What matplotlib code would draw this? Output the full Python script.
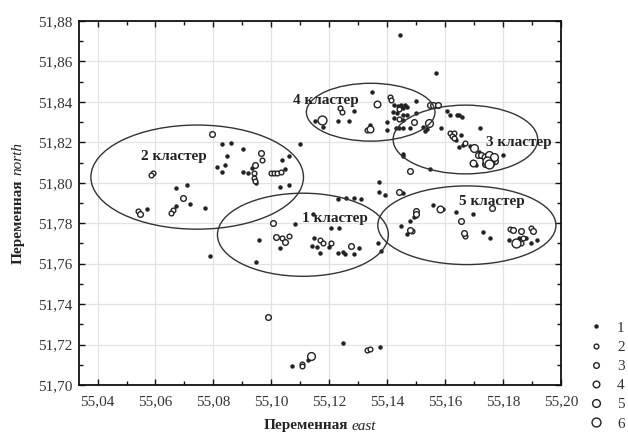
import numpy as np
import matplotlib.pyplot as plt
from matplotlib.patches import Ellipse
from matplotlib.ticker import MultipleLocator, FuncFormatter

plt.rcParams['font.family'] = ['Liberation Serif', 'DejaVu Serif']

# --- points: (east, north, size class 1..6) ---
cluster2_pts = [
    (55.0795, 51.8242, 3), (55.0592, 51.8049, 2), (55.0586, 51.8038, 2),
    (55.0672, 51.7972, 1), (55.0708, 51.7987, 1), (55.0696, 51.7927, 3),
    (55.0718, 51.7894, 1), (55.0672, 51.7886, 1), (55.0661, 51.7864, 2),
    (55.0653, 51.7851, 2), (55.0770, 51.7876, 1), (55.0572, 51.7869, 1),
    (55.0540, 51.7861, 2), (55.0548, 51.7847, 3), (55.0787, 51.7637, 1),
    (55.0830, 51.8190, 1), (55.0860, 51.8195, 1), (55.0848, 51.8133, 1),
    (55.0902, 51.8166, 1), (55.0966, 51.8148, 3), (55.0968, 51.8112, 2),
    (55.0942, 51.8087, 3), (55.0933, 51.8074, 1), (55.0939, 51.8046, 2),
    (55.0939, 51.8026, 2), (55.0942, 51.8010, 2), (55.0948, 51.8000, 1),
    (55.0814, 51.8079, 1), (55.0841, 51.8087, 1), (55.0830, 51.8054, 1),
    (55.0902, 51.8054, 1), (55.0919, 51.8049, 1), (55.1000, 51.8050, 2),
    (55.1010, 51.8050, 2), (55.1020, 51.8050, 2), (55.1032, 51.8051, 2),
    (55.1046, 51.8066, 1), (55.1038, 51.8115, 1), (55.1060, 51.8133, 1),
    (55.1100, 51.8190, 1), (55.1029, 51.7977, 1), (55.1061, 51.7988, 1),
]

cluster1_pts = [
    (55.0957, 51.7716, 1), (55.1017, 51.7732, 3), (55.1037, 51.7727, 2),
    (55.1046, 51.7706, 3), (55.1061, 51.7736, 2), (55.1029, 51.7678, 1),
    (55.0948, 51.7610, 1), (55.1006, 51.7800, 3), (55.1080, 51.7795, 1),
    (55.1143, 51.7844, 1), (55.1149, 51.7729, 1), (55.1167, 51.7716, 2),
    (55.1178, 51.7702, 2), (55.1207, 51.7700, 2), (55.1141, 51.7685, 1),
    (55.1156, 51.7681, 1), (55.1199, 51.7683, 1), (55.1169, 51.7655, 1),
    (55.1230, 51.7653, 1), (55.1247, 51.7658, 1), (55.1256, 51.7650, 1),
    (55.1275, 51.7687, 3), (55.1287, 51.7650, 1), (55.1302, 51.7679, 1),
    (55.1207, 51.7777, 1), (55.1232, 51.7777, 1), (55.1230, 51.7922, 1),
    (55.1259, 51.7925, 1), (55.1285, 51.7925, 1), (55.1310, 51.7922, 1),
    (55.1367, 51.7703, 1), (55.1377, 51.7664, 1), (55.1373, 51.8004, 1),
    (55.1373, 51.7952, 1), (55.1391, 51.7939, 1), (55.1442, 51.7955, 3),
    (55.1456, 51.7950, 1),
]

cluster4_pts = [
    (55.1348, 51.8450, 1), (55.1366, 51.8388, 4), (55.1408, 51.8425, 2),
    (55.1414, 51.8409, 2), (55.1238, 51.8368, 2), (55.1245, 51.8352, 2),
    (55.1287, 51.8357, 1), (55.1175, 51.8310, 6), (55.1151, 51.8307, 1),
    (55.1180, 51.8277, 1), (55.1230, 51.8307, 1), (55.1268, 51.8307, 1),
    (55.1329, 51.8260, 2), (55.1342, 51.8265, 4), (55.1339, 51.8285, 1),
    (55.1399, 51.8300, 1), (55.1399, 51.8259, 1), (55.1425, 51.8384, 1),
    (55.1436, 51.8379, 1), (55.1448, 51.8384, 1), (55.1460, 51.8384, 1),
    (55.1470, 51.8376, 1), (55.1454, 51.8368, 1), (55.1498, 51.8405, 1),
    (55.1419, 51.8351, 1), (55.1433, 51.8343, 1), (55.1442, 51.8363, 2),
    (55.1456, 51.8335, 1), (55.1468, 51.8335, 1), (55.1500, 51.8346, 1),
    (55.1425, 51.8318, 1), (55.1442, 51.8313, 2), (55.1454, 51.8310, 1),
    (55.1431, 51.8272, 1), (55.1442, 51.8272, 1), (55.1456, 51.8273, 1),
    (55.1479, 51.8272, 1), (55.1494, 51.8302, 3), (55.1547, 51.8387, 3),
    (55.1557, 51.8387, 3), (55.1574, 51.8387, 3), (55.1525, 51.8277, 1),
    (55.1546, 51.8295, 5), (55.1529, 51.8257, 1), (55.1537, 51.8264, 1),
    (55.1586, 51.8272, 1),
]

cluster3_pts = [
    (55.1607, 51.8354, 1), (55.1617, 51.8335, 1), (55.1640, 51.8335, 1),
    (55.1649, 51.8335, 1), (55.1657, 51.8323, 1), (55.1720, 51.8272, 1),
    (55.1617, 51.8247, 2), (55.1629, 51.8247, 2), (55.1624, 51.8231, 2),
    (55.1629, 51.8221, 2), (55.1638, 51.8213, 1), (55.1656, 51.8237, 1),
    (55.1647, 51.8176, 1), (55.1660, 51.8189, 1), (55.1670, 51.8196, 2),
    (55.1686, 51.8181, 1), (55.1699, 51.8171, 5), (55.1718, 51.8153, 1),
    (55.1712, 51.8139, 3), (55.1724, 51.8137, 3), (55.1695, 51.8099, 4),
    (55.1706, 51.8087, 1), (55.1739, 51.8127, 4), (55.1753, 51.8137, 5),
    (55.1767, 51.8127, 5), (55.1746, 51.8107, 6), (55.1760, 51.8097, 4),
    (55.1773, 51.8107, 3), (55.1736, 51.8092, 3), (55.1753, 51.8092, 6),
    (55.1799, 51.8135, 1), (55.1456, 51.8144, 1), (55.1456, 51.8132, 1),
    (55.1477, 51.8057, 3), (55.1549, 51.8066, 1),
]

cluster5_pts = [
    (55.1498, 51.7859, 3), (55.1500, 51.7847, 3), (55.1494, 51.7832, 1),
    (55.1501, 51.7835, 1), (55.1480, 51.7812, 1), (55.1446, 51.7785, 1),
    (55.1477, 51.7765, 3), (55.1486, 51.7763, 2), (55.1469, 51.7749, 1),
    (55.1559, 51.7889, 1), (55.1584, 51.7872, 4), (55.1591, 51.7869, 1),
    (55.1639, 51.7856, 1), (55.1695, 51.7847, 1), (55.1763, 51.7873, 3),
    (55.1656, 51.7811, 3), (55.1665, 51.7752, 3), (55.1667, 51.7739, 2),
    (55.1729, 51.7759, 1), (55.1756, 51.7728, 1), (55.1823, 51.7769, 2),
    (55.1834, 51.7765, 3), (55.1862, 51.7761, 3), (55.1898, 51.7777, 2),
    (55.1903, 51.7762, 3), (55.1819, 51.7716, 1), (55.1845, 51.7702, 6),
    (55.1856, 51.7727, 1), (55.1868, 51.7728, 2), (55.1879, 51.7728, 1),
    (55.1861, 51.7701, 2), (55.1897, 51.7700, 1), (55.1916, 51.7716, 1),
]

outlier_pts = [
    (55.0988, 51.7336, 3), (55.1071, 51.7094, 1), (55.1107, 51.7105, 2),
    (55.1107, 51.7092, 2), (55.1126, 51.7125, 1), (55.1138, 51.7142, 5),
    (55.1249, 51.7208, 1), (55.1331, 51.7175, 2), (55.1339, 51.7178, 2),
    (55.1376, 51.7188, 1), (55.1445, 51.8731, 1), (55.1569, 51.8541, 1),
]

# --- cluster ellipses: centre east, centre north, width, height ---
ell_names = ['1 кластер', '2 кластер', '3 кластер', '4 кластер', '5 кластер']
ell_center_e = [55.1109, 55.0744, 55.1670, 55.1343, 55.1675]
ell_center_n = [51.7743, 51.8028, 51.8214, 51.8349, 51.7790]
ell_width = [0.0590, 0.0734, 0.0499, 0.0444, 0.0615]
ell_height = [0.0411, 0.0515, 0.0340, 0.0286, 0.0389]
label_e = [55.1218, 55.0662, 55.1855, 55.1187, 55.1761]
label_n = [51.7823, 51.8132, 51.8198, 51.8409, 51.7905]

size_classes = [1, 2, 3, 4, 5, 6]
marker_ms = [2.2, 3.4, 4.1, 4.8, 5.6, 6.4]

pts = np.array(cluster2_pts + cluster1_pts + cluster4_pts + cluster3_pts
               + cluster5_pts + outlier_pts)
east, north, cls = pts[:, 0], pts[:, 1], pts[:, 2].astype(int)

W, H = 628, 434
fig = plt.figure(figsize=(W / 100, H / 100), dpi=100)
ax = fig.add_axes([79 / W, (H - 385) / H, 482 / W, 364 / H])

ax.set_xlim(55.0336, 55.20)
ax.set_ylim(51.70, 51.88)

ink = '#222222'
for k, ms in zip(size_classes, marker_ms):
    m = cls == k
    ax.plot(east[m], north[m], 'o', ls='none', ms=ms,
            mfc=ink if k == 1 else 'white', mec=ink, mew=1.0,
            label=str(k), zorder=3)

for i in range(len(ell_names)):
    ax.add_patch(Ellipse((ell_center_e[i], ell_center_n[i]), ell_width[i],
                         ell_height[i], fill=False, ec='#333333', lw=1.0,
                         zorder=4))
    ax.text(label_e[i], label_n[i], ell_names[i], ha='center', va='center',
            fontsize=11, fontweight='bold', color=ink, zorder=5)

# axes styling
ax.xaxis.set_major_locator(MultipleLocator(0.02))
ax.xaxis.set_minor_locator(MultipleLocator(0.01))
ax.yaxis.set_major_locator(MultipleLocator(0.02))
ax.yaxis.set_minor_locator(MultipleLocator(0.01))
comma = FuncFormatter(lambda v, p: f'{v:.2f}'.replace('.', ','))
ax.xaxis.set_major_formatter(comma)
ax.yaxis.set_major_formatter(comma)
ax.tick_params(which='both', direction='in', top=True, right=True,
               colors='#111111', labelcolor='#333333', labelsize=11)
ax.tick_params(which='major', length=4, width=1.0)
ax.tick_params(which='minor', length=3, width=1.0)
ax.tick_params(axis='x', pad=7)
ax.tick_params(axis='y', pad=5)
ax.grid(True, which='major', color='#e2e2e2', lw=0.9, zorder=0)
ax.set_axisbelow(True)
for s in ax.spines.values():
    s.set_linewidth(1.3)
    s.set_color('#111111')

leg = ax.legend(loc='upper left', bbox_to_anchor=(588 / W, (H - 321) / H),
                bbox_transform=fig.transFigure, frameon=False, fontsize=11,
                handlelength=1.0, handletextpad=0.9, labelspacing=0.36,
                borderaxespad=0, borderpad=0)
for t in leg.get_texts():
    t.set_color('#333333')

# axis titles: bold word + italic variable name
fig.canvas.draw()
rend = fig.canvas.get_renderer()

xa = fig.text(0, 8 / H, 'Переменная', fontsize=11, fontweight='bold',
              color=ink, va='center')
xb = fig.text(0, 8 / H, 'east', fontsize=11, style='italic',
              color=ink, va='center')
w1 = xa.get_window_extent(rend).width
w2 = xb.get_window_extent(rend).width
gap = 4
x0 = 320 - (w1 + gap + w2) / 2
xa.set_x(x0 / W)
xb.set_x((x0 + w1 + gap) / W)

ya = fig.text(18 / W, 0, 'Переменная', fontsize=11, fontweight='bold',
              color=ink, rotation=90, ha='center', va='bottom')
yb = fig.text(18 / W, 0, 'north', fontsize=11, style='italic',
              color=ink, rotation=90, ha='center', va='bottom')
h1 = ya.get_window_extent(rend).height
h2 = yb.get_window_extent(rend).height
y0 = (H - 203) - (h1 + gap + h2) / 2
ya.set_y(y0 / H)
yb.set_y((y0 + h1 + gap) / H)

fig.savefig('out.png', dpi=100)
